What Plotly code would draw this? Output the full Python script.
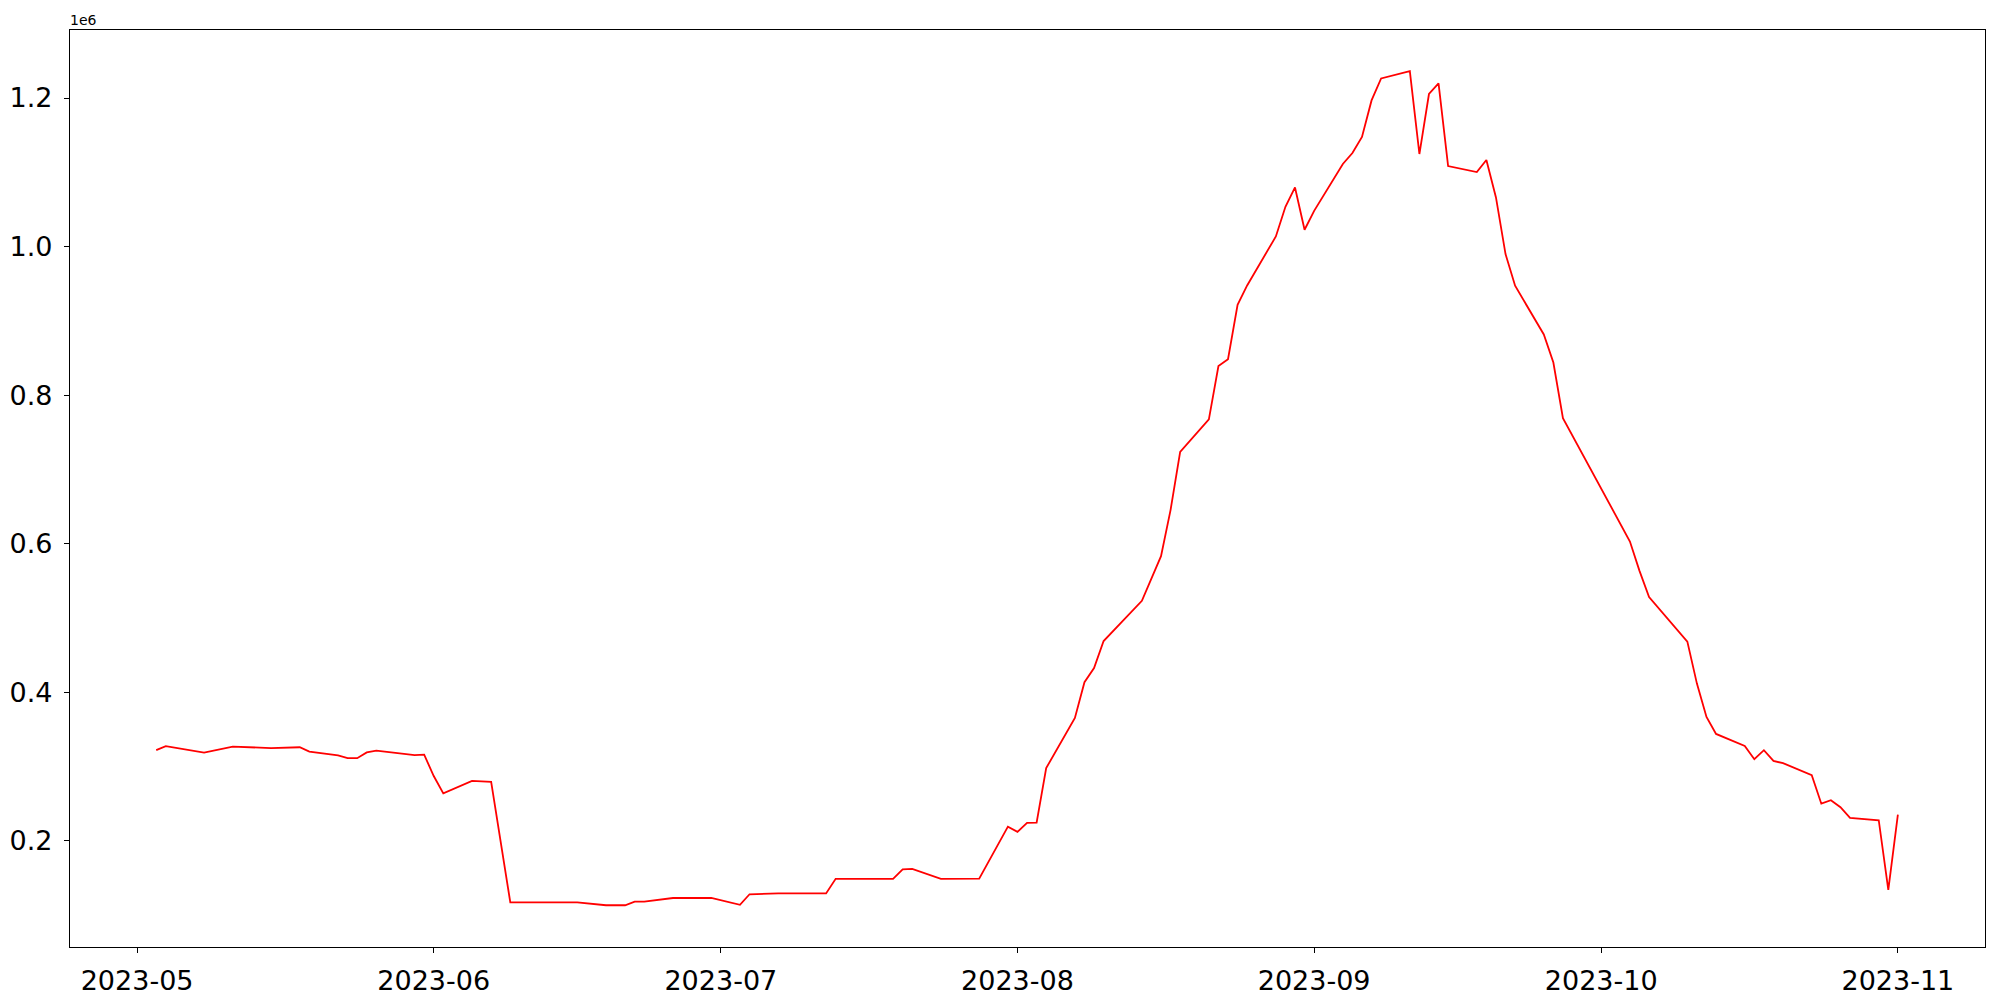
import plotly.graph_objects as go

dates = [
    "2023-05-03", "2023-05-04", "2023-05-08", "2023-05-11", "2023-05-15", "2023-05-18",
    "2023-05-19", "2023-05-22", "2023-05-23", "2023-05-24", "2023-05-25", "2023-05-26",
    "2023-05-30", "2023-05-31", "2023-06-01", "2023-06-02", "2023-06-05", "2023-06-07",
    "2023-06-09", "2023-06-16", "2023-06-19", "2023-06-21", "2023-06-22", "2023-06-23",
    "2023-06-26", "2023-06-30", "2023-07-03", "2023-07-04", "2023-07-07", "2023-07-12",
    "2023-07-13", "2023-07-19", "2023-07-20", "2023-07-21", "2023-07-24", "2023-07-28",
    "2023-07-31", "2023-08-01", "2023-08-02", "2023-08-03", "2023-08-04", "2023-08-07",
    "2023-08-08", "2023-08-09", "2023-08-10", "2023-08-14", "2023-08-16", "2023-08-17",
    "2023-08-18", "2023-08-21", "2023-08-22", "2023-08-23", "2023-08-24", "2023-08-25",
    "2023-08-28", "2023-08-29", "2023-08-30", "2023-08-31", "2023-09-01", "2023-09-04",
    "2023-09-05", "2023-09-06", "2023-09-07", "2023-09-08", "2023-09-11", "2023-09-12",
    "2023-09-13", "2023-09-14", "2023-09-15", "2023-09-18", "2023-09-19", "2023-09-20",
    "2023-09-21", "2023-09-22", "2023-09-25", "2023-09-26", "2023-09-27", "2023-10-04",
    "2023-10-05", "2023-10-06", "2023-10-10", "2023-10-11", "2023-10-12", "2023-10-13",
    "2023-10-16", "2023-10-17", "2023-10-18", "2023-10-19", "2023-10-20", "2023-10-23",
    "2023-10-24", "2023-10-25", "2023-10-26", "2023-10-27", "2023-10-30", "2023-10-31",
    "2023-11-01",
]

values = [
    321800, 327200, 318600, 326600, 324700, 325800,
    319900, 314800, 311000, 311000, 318800, 321300,
    315200, 315800, 287000, 263600, 280400, 279300,
    117000, 117000, 113000, 113000, 117800, 117800,
    122800, 123000, 113600, 127800, 129100, 129000,
    148600, 148600, 161200, 162000, 148600, 148800,
    218900, 211900, 224000, 224400, 297700, 365300,
    413300, 432400, 468800, 523000, 583000, 645500,
    723600, 767300, 839000, 848200, 921600, 947600,
    1013600, 1053600, 1079600, 1022600, 1048000, 1111200,
    1125900, 1147500, 1196800, 1226400, 1236300, 1124600,
    1205400, 1219700, 1108400, 1100300, 1116500, 1066100,
    989800, 947200, 881600, 843900, 769000, 602800,
    563300, 527900, 468000, 411500, 366600, 343700,
    327600, 309600, 321800, 307400, 304300, 288100,
    249800, 254400, 245000, 230600, 227500, 133600,
    235000,
]

y_tick_vals = [200000, 400000, 600000, 800000, 1000000, 1200000]
y_tick_text = ["0.2", "0.4", "0.6", "0.8", "1.0", "1.2"]
x_tick_vals = ["2023-05-01", "2023-06-01", "2023-07-01", "2023-08-01",
               "2023-09-01", "2023-10-01", "2023-11-01"]
x_tick_text = ["2023-05", "2023-06", "2023-07", "2023-08", "2023-09", "2023-10", "2023-11"]
offset_text = "1e6"

FONT = "DejaVu Sans"

fig = go.Figure()
fig.add_trace(go.Scatter(
    x=dates, y=values, mode="lines",
    line=dict(color="red", width=1.8),
    showlegend=False, hoverinfo="x+y",
))

axis_common = dict(
    showline=True, linecolor="black", linewidth=1.3, mirror=True,
    ticks="outside", ticklen=5, tickwidth=1.2, tickcolor="black",
    showgrid=False, zeroline=False, automargin=False,
    tickfont=dict(family=FONT, size=27, color="black"),
)

fig.update_xaxes(
    type="date",
    range=["2023-04-23 23:45", "2023-11-10 02:30"],
    tickmode="array", tickvals=x_tick_vals, ticktext=x_tick_text,
    ticklabelstandoff=4,
    **axis_common,
)
fig.update_yaxes(
    range=[56800, 1291600],
    tickmode="array", tickvals=y_tick_vals, ticktext=y_tick_text,
    ticklabelstandoff=6,
    **axis_common,
)

fig.add_annotation(
    text=offset_text, xref="paper", yref="paper", x=0, y=1,
    xanchor="left", yanchor="bottom", showarrow=False,
    font=dict(family=FONT, size=14, color="black"), xshift=-2, yshift=0,
)

# the page adds an 8 px offset; margins compensate so the axes box sits
# at x 70..1985, y 30..947 in the 2000x1000 window
fig.update_layout(
    width=2000, height=1000,
    margin=dict(l=62, r=23, t=22, b=61, autoexpand=False),
    paper_bgcolor="white", plot_bgcolor="white",
    font=dict(family=FONT, color="black"),
)

fig.write_html("out.html")
